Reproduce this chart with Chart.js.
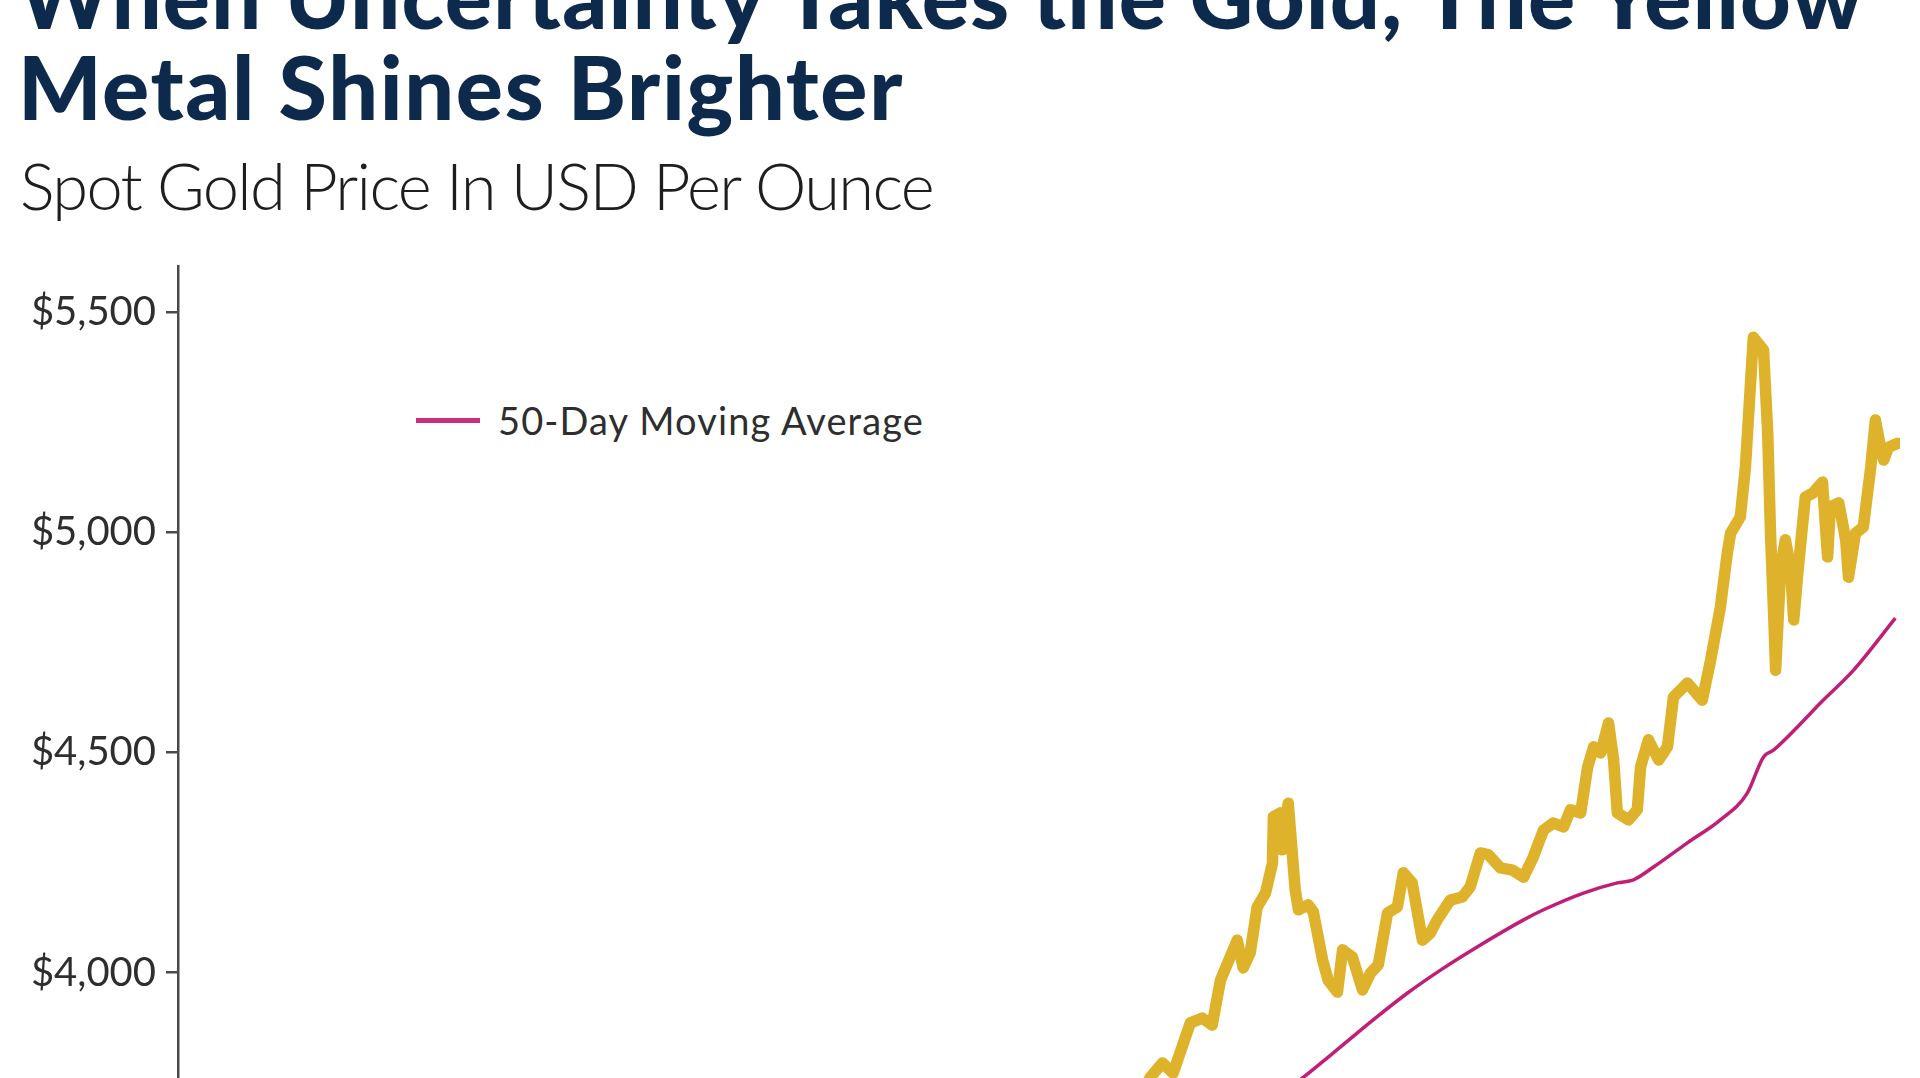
<!DOCTYPE html>
<html>
<head>
<meta charset="utf-8">
<script src="https://cdn.jsdelivr.net/npm/chart.js@4"></script>
<style>
  html, body { margin: 0; padding: 0; background: #fff; overflow: hidden; }
  body { width: 1920px; height: 1078px; position: relative; }
  .txt { position: absolute; white-space: nowrap; line-height: 1; }
  .title { font-family: "Lato", sans-serif; font-weight: 900; font-size: 88px; color: #0d2a4c; }
  .subtitle { font-family: "Lato", sans-serif; font-weight: 300; font-size: 65px; color: #1e1e1e; }
  .legend-text { font-family: "Lato", sans-serif; font-size: 38px; color: #2e2e2e; }
  #legendLine { position: absolute; left: 416px; top: 418px; width: 64px; height: 5px; background: #c8307f; }
  #chartBox { position: absolute; left: 0; top: 265px; width: 1920px; height: 813px; }
</style>
</head>
<body>
<div class="txt title" id="title1">When Uncertainty Takes the Gold, The Yellow</div>
<div class="txt title" id="title2">Metal Shines Brighter</div>
<div class="txt subtitle" id="subtitle">Spot Gold Price In USD Per Ounce</div>
<div id="legendLine"></div>
<div class="txt legend-text" id="legendText">50-Day Moving Average</div>
<div id="chartBox"><canvas id="goldChart"></canvas></div>

<script>
// Spot gold price, x = days from the start of the axis
const goldDays = [
  208.0, 209.5, 212.1, 214.4, 218.1, 220.7, 222.8, 224.6, 228.2, 229.5,
  231.0, 232.5, 234.3, 235.8, 236.0, 237.5, 237.9, 239.2, 240.7, 241.4,
  243.5, 244.6, 246.6, 247.8, 249.8, 250.9, 253.0, 255.2, 256.9, 258.6,
  260.6, 262.7, 264.0, 265.9, 268.1, 269.8, 271.3, 274.1, 276.7, 278.4,
  280.6, 282.3, 284.9, 287.5, 289.9, 292.0, 294.2, 296.3, 298.5, 300.0,
  302.2, 303.7, 305.0, 306.5, 308.2, 309.3, 310.1, 312.5, 314.4, 315.1,
  316.8, 319.0, 320.9, 322.2, 325.2, 328.4, 330.2, 332.3, 333.8, 334.5,
  336.6, 337.7, 338.8, 339.4, 341.6, 342.5, 343.1, 343.8, 344.2, 345.3,
  346.3, 347.4, 348.1, 349.1, 350.6, 352.2, 354.3, 355.4, 356.0, 357.8,
  359.3, 359.9, 361.4, 363.1, 364.7, 365.7, 366.8, 367.5, 368.5, 370.5
];
const goldPrice = [
  3733, 3763, 3795, 3772, 3886, 3897, 3881, 3983, 4074, 4011,
  4045, 4149, 4181, 4249, 4354, 4363, 4279, 4385, 4188, 4143,
  4154, 4138, 4029, 3983, 3956, 4052, 4036, 3961, 3999, 4018,
  4136, 4149, 4227, 4204, 4074, 4090, 4120, 4165, 4172, 4195,
  4272, 4268, 4238, 4233, 4217, 4263, 4324, 4340, 4331, 4370,
  4363, 4467, 4513, 4499, 4567, 4483, 4363, 4347, 4370, 4467,
  4529, 4483, 4513, 4626, 4658, 4619, 4710, 4830, 4953, 4998,
  5035, 5148, 5339, 5443, 5414, 5225, 4998, 4808, 4687, 4921,
  4983, 4921, 4801, 4921, 5080, 5089, 5114, 4944, 5058, 5067,
  4983, 4898, 4998, 5012, 5148, 5255, 5193, 5164, 5193, 5202
];

// 50-day moving average
const maDays = [
  239.7, 242.5, 250.4, 257.5, 264.9, 272.0, 280.6, 289.9, 294.2, 302.8,
  310.1, 313.6, 317.9, 325.2, 332.3, 338.1, 341.6, 343.8, 348.9, 353.9,
  361.0, 370.0
];
const maPrice = [
  3740, 3763, 3831, 3893, 3954, 4006, 4063, 4120, 4143, 4181,
  4204, 4211, 4240, 4295, 4347, 4408, 4490, 4506, 4558, 4613,
  4687, 4805
];

// y axis
const yTicks = [4000, 4500, 5000, 5500];
const yMin = 3761;
const yMax = 5607;
const xMin = 0;
const xMax = 371;

const goldPoints = goldDays.map((d, i) => ({ x: d, y: goldPrice[i] }));
const maPoints = maDays.map((d, i) => ({ x: d, y: maPrice[i] }));

new Chart(document.getElementById("goldChart"), {
  type: "line",
  data: {
    datasets: [
      {
        label: "50-Day Moving Average",
        data: maPoints,
        borderColor: "#c01f78",
        borderWidth: 3.5,
        pointRadius: 0,
        cubicInterpolationMode: "monotone",
        fill: false,
      },
      {
        label: "Spot Gold",
        data: goldPoints,
        borderColor: "#dfb22b",
        borderWidth: 11.5,
        borderJoinStyle: "round",
        borderCapStyle: "round",
        pointRadius: 0,
        tension: 0,
        fill: false,
      },
    ],
  },
  options: {
    responsive: true,
    maintainAspectRatio: false,
    animation: false,
    layout: { padding: { left: 0, right: 20, top: 0, bottom: 0 } },
    plugins: {
      legend: { display: false },
      tooltip: { enabled: false },
    },
    scales: {
      x: {
        type: "linear",
        display: false,
        min: xMin,
        max: xMax,
      },
      y: {
        min: yMin,
        max: yMax,
        afterBuildTicks: (scale) => {
          scale.ticks = yTicks.map((v) => ({ value: v }));
        },
        afterFit: (scale) => {
          scale.width = 178;
          scale.paddingTop = 0;
          scale.paddingBottom = 0;
        },
        border: { display: true, color: "#4a4a4a", width: 2.5 },
        grid: {
          drawOnChartArea: false,
          drawTicks: true,
          tickLength: 12,
          color: "#4a4a4a",
          lineWidth: 2.5,
        },
        ticks: {
          padding: 10,
          color: "#2e2e2e",
          font: { family: "Lato", size: 40 },
          callback: (v) => "$" + v.toLocaleString("en-US"),
        },
      },
    },
  },
});

// Place a text block by its baseline and stretch it to the measured width
function placeText(id, left, baseline, width) {
  const el = document.getElementById(id);
  el.style.left = left + "px";
  el.style.top = "0px";
  const probe = document.createElement("span");
  probe.style.display = "inline-block";
  probe.style.width = "0";
  probe.style.height = "0";
  probe.style.verticalAlign = "baseline";
  el.appendChild(probe);
  const base = probe.getBoundingClientRect().bottom - el.getBoundingClientRect().top;
  el.removeChild(probe);
  el.style.top = baseline - base + "px";
  if (width) {
    const w = el.getBoundingClientRect().width;
    const n = el.textContent.length;
    el.style.letterSpacing = (width - w) / n + "px";
  }
}

placeText("title1", 18, 29, 1846);
placeText("title2", 18, 120, 886);
placeText("subtitle", 20, 210, 913);
placeText("legendText", 498, 435, 426);
</script>
</body>
</html>
